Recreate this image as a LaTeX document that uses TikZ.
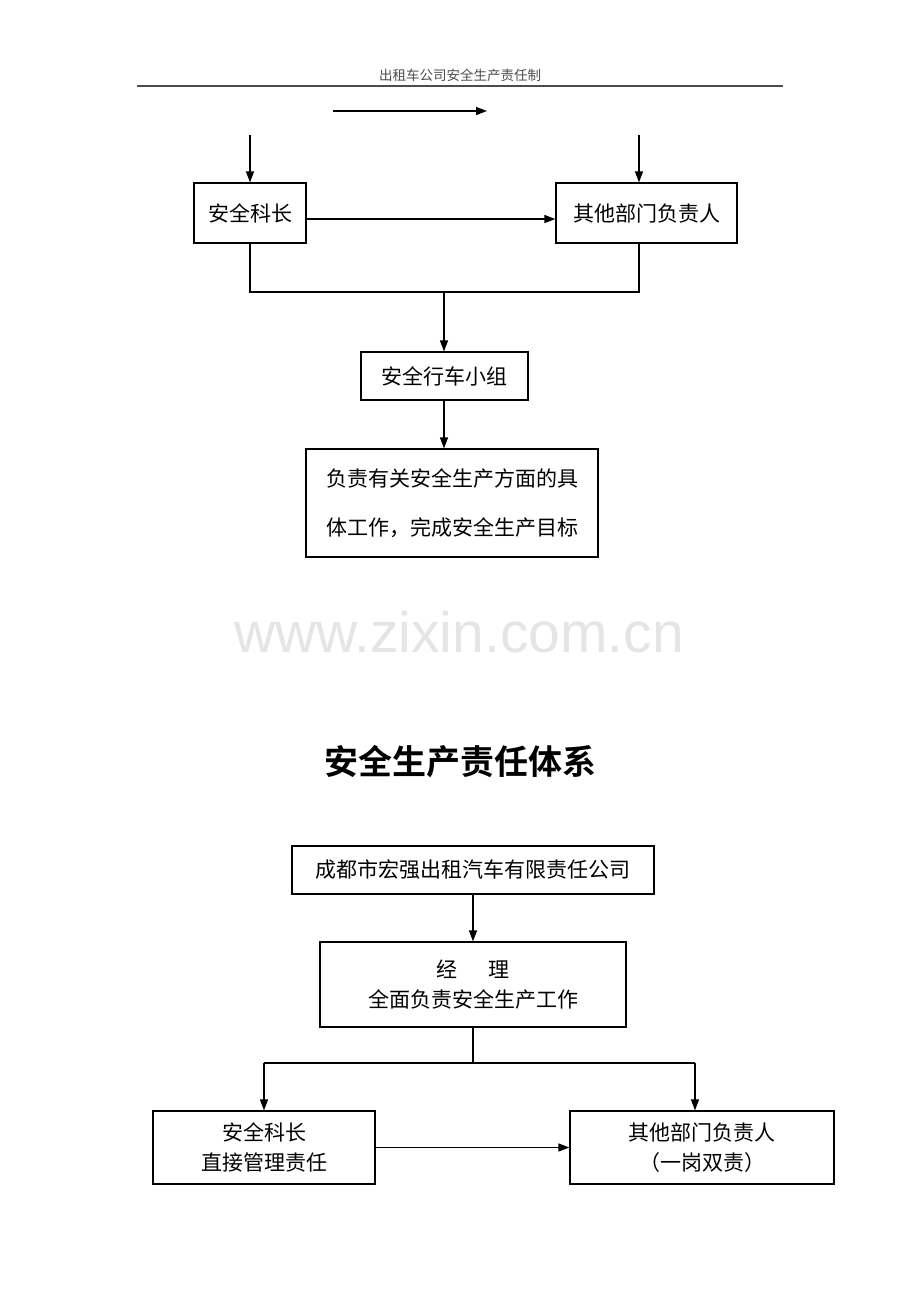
\documentclass[tikz,border=0pt]{standalone}
\usepackage{fontspec}
\setmainfont{Noto Sans CJK SC}[BoldFont={Noto Sans CJK SC Bold}]
\newfontfamily\wmfont{Liberation Sans}
\usetikzlibrary{arrows.meta}
\begin{document}
\begin{tikzpicture}[x=1pt,y=-1pt,
  boxnode/.style={draw, line width=1.2pt, inner sep=0pt, align=center, font=\fontsize{21}{30}\selectfont},
  arr/.style={line width=1.3pt, -{Triangle[length=11pt,width=8pt]}},
  ln/.style={line width=1.2pt}]
\useasboundingbox (0,0) rectangle (920,1302);
% header
\node[font=\fontsize{13.5}{16}\selectfont, text=black!70] (hd) at (460,75) {出租车公司安全生产责任制};
\coordinate (hl1) at (137,86); \coordinate (hl2) at (783,86);
\draw[line width=1.5pt, black!70] (hl1) -- (hl2);
% top stray arrow
\coordinate (s1) at (333,111); \coordinate (s2) at (487,111);
\draw[arr] (s1) -- (s2);
% upper chart
\node[boxnode, minimum width=112, minimum height=60] (a) at (250,213) {安全科长};
\node[boxnode, minimum width=181, minimum height=60] (b) at (646.5,213) {其他部门负责人};
\node[boxnode, minimum width=167, minimum height=48] (c) at (444.5,376) {安全行车小组};
\node[boxnode, minimum width=292, minimum height=108, font=\fontsize{21}{49}\selectfont] (d) at (452,503) {负责有关安全生产方面的具\\体工作，完成安全生产目标};
\coordinate (ta) at (250,135); \coordinate (tb) at (639,135);
\draw[arr] (ta) -- (a.north);
\draw[arr] (tb) -- (tb |- b.north);
\draw[arr] ([yshift=-6pt]a.east) -- ([yshift=-6pt]a.east -| b.west);
\coordinate (j1) at (444,292);
\draw[ln] (a.south) |- (j1);
\draw[ln] (tb |- b.south) |- (j1);
\draw[arr] (j1) -- (j1 |- c.north);
\draw[arr] (j1 |- c.south) -- (j1 |- d.north);
% watermark
\node[anchor=base, font=\wmfont\fontsize{57}{60}\selectfont, text=black!10, inner sep=0pt] (wm) at (459,652) {www.zixin.com.cn};
% title
\node[font=\fontsize{34}{40}\selectfont\bfseries] (ti) at (460,762) {安全生产责任体系};
% lower chart
\node[boxnode, minimum width=362, minimum height=48] (e) at (473,870) {成都市宏强出租汽车有限责任公司};
\node[boxnode, minimum width=306, minimum height=85] (f) at (473,984.5) {经\hspace{1.5em}理\\全面负责安全生产工作};
\node[boxnode, minimum width=222, minimum height=73] (g) at (264,1147.5) {安全科长\\直接管理责任};
\node[boxnode, minimum width=264, minimum height=73] (h) at (702,1147.5) {其他部门负责人\\（一岗双责）};
\draw[arr] (e.south) -- (f.north);
\coordinate (j2) at (473,1063);
\coordinate (gl) at (264,1063); \coordinate (hr) at (695,1063);
\draw[ln] (f.south) -- (j2);
\draw[ln] (gl) -- (hr);
\draw[arr] (gl) -- (g.north);
\draw[arr] (hr) -- (hr |- h.north);
\draw[arr] (g.east) -- (h.west);
\end{tikzpicture}
\end{document}
